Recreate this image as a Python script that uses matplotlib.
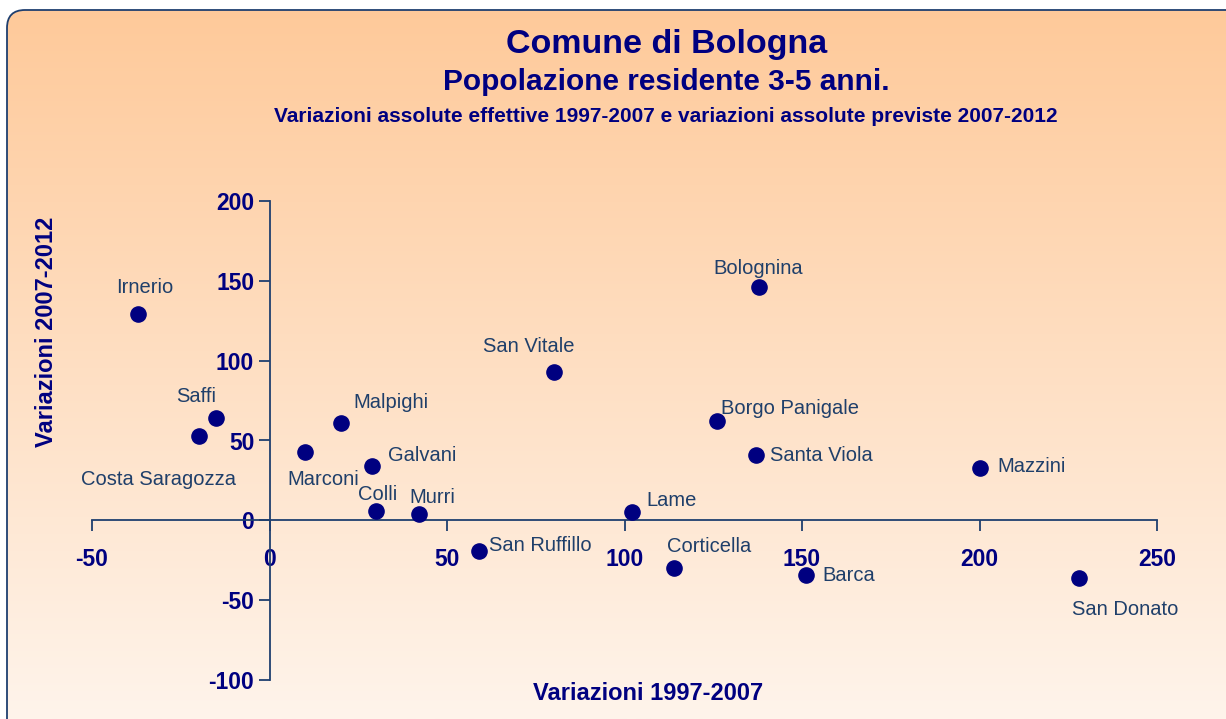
import numpy as np
import matplotlib
matplotlib.use("Agg")
import matplotlib.pyplot as plt
from matplotlib.patches import FancyBboxPatch

plt.rcParams['font.family'] = ['Liberation Sans', 'DejaVu Sans']
plt.rcParams['axes.unicode_minus'] = False

# dati: variazioni 1997-2007 (x) e variazioni previste 2007-2012 (y)
quartieri = ['Irnerio', 'Saffi', 'Costa Saragozza', 'Marconi', 'Malpighi', 'Galvani',
             'Colli', 'Murri', 'San Ruffillo', 'San Vitale', 'Lame', 'Corticella',
             'Borgo Panigale', 'Bolognina', 'Santa Viola', 'Barca', 'Mazzini', 'San Donato']
var_97_07 = [-37, -15, -20, 10, 20, 29, 30, 42, 59, 80, 102, 114, 126, 138, 137, 151, 200, 228]
var_07_12 = [129, 64, 53, 43, 61, 34, 6, 4, -19, 93, 5, -30, 62, 146, 41, -34, 33, -36]

# posizione delle etichette (offset in pixel, allineamento)
lab_pos = {
    'Irnerio': (7, 27, 'center'), 'Saffi': (-20, 22, 'center'),
    'Costa Saragozza': (-40, -44, 'center'), 'Marconi': (18, -28, 'center'),
    'Malpighi': (13, 20, 'left'), 'Galvani': (16, 11, 'left'),
    'Colli': (2, 16, 'center'), 'Murri': (14, 16, 'center'),
    'San Ruffillo': (10, 5, 'left'), 'San Vitale': (-25, 25, 'center'),
    'Lame': (15, 12, 'left'), 'Corticella': (35, 22, 'center'),
    'Borgo Panigale': (4, 13, 'left'), 'Bolognina': (-1, 19, 'center'),
    'Santa Viola': (14, -1, 'left'), 'Barca': (17, -1, 'left'),
    'Mazzini': (18, 1, 'left'), 'San Donato': (-7, -32, 'left'),
}

navy = '#000080'
axcol = '#1F3F6F'
labcol = '#1F3F6A'

fig = plt.figure(figsize=(12.26, 7.19), dpi=100)

# sfondo sfumato con bordo arrotondato
bg = fig.add_axes([0, 0, 1, 1], zorder=-1)
bg.set_xlim(0, 1226)
bg.set_ylim(0, 719)
bg.axis('off')
grad = np.linspace(0, 1, 256).reshape(-1, 1)
top = np.array([255, 201, 153]) / 255
bot = np.array([254, 244, 235]) / 255
img = top[None, None, :] * (1 - grad[..., None]) + bot[None, None, :] * grad[..., None]
im = bg.imshow(img, extent=[0, 1226, 0, 719], origin='upper', aspect='auto')
box = FancyBboxPatch((7, -20), 1250, 729, boxstyle='round,pad=0,rounding_size=18',
                     facecolor='none', edgecolor='#1F3F6F', linewidth=1.3)
bg.add_patch(box)
im.set_clip_path(box)

ax = fig.add_axes([92 / 1226, 1 - 680 / 719, 1065 / 1226, 479 / 719])
ax.patch.set_alpha(0)
ax.scatter(var_97_07, var_07_12, s=120, color=navy, zorder=3)
for nome, x, y in zip(quartieri, var_97_07, var_07_12):
    dx, dy, ha = lab_pos[nome]
    ax.annotate(nome, (x, y), xytext=(dx, dy), textcoords='offset pixels',
                ha=ha, va='center', fontsize=14.5, color=labcol)

ax.set_xlim(-50, 250)
ax.set_ylim(-100, 200)
ax.set_xticks(np.arange(-50, 251, 50))
ax.set_yticks(np.arange(-100, 201, 50))
ax.spines['left'].set_position(('data', 0))
ax.spines['bottom'].set_position(('data', 0))
ax.spines['top'].set_visible(False)
ax.spines['right'].set_visible(False)
for s in ['left', 'bottom']:
    ax.spines[s].set_color(axcol)
    ax.spines[s].set_linewidth(1.3)
ax.tick_params(axis='both', colors=axcol, length=8, width=1.3, direction='out',
               labelcolor=navy, labelsize=16.5)
ax.tick_params(axis='x', pad=12)
ax.tick_params(axis='y', pad=3)
for t in ax.get_xticklabels() + ax.get_yticklabels():
    t.set_fontweight('bold')

fig.text(667 / 1226, 1 - 45 / 719, 'Comune di Bologna', ha='center', va='center',
         fontsize=24.5, fontweight='bold', color=navy)
fig.text(666 / 1226, 1 - 82 / 719, 'Popolazione residente 3-5 anni.', ha='center', va='center',
         fontsize=21.5, fontweight='bold', color=navy)
fig.text(666 / 1226, 1 - 117 / 719,
         'Variazioni assolute effettive 1997-2007 e variazioni assolute previste 2007-2012',
         ha='center', va='center', fontsize=15, fontweight='bold', color=navy)
fig.text(648 / 1226, 1 - 693 / 719, 'Variazioni 1997-2007', ha='center', va='center',
         fontsize=17, fontweight='bold', color=navy)
fig.text(47 / 1226, 1 - 332 / 719, 'Variazioni 2007-2012', ha='center', va='center',
         rotation=90, fontsize=17, fontweight='bold', color=navy)

fig.savefig('out.png', dpi=100)
